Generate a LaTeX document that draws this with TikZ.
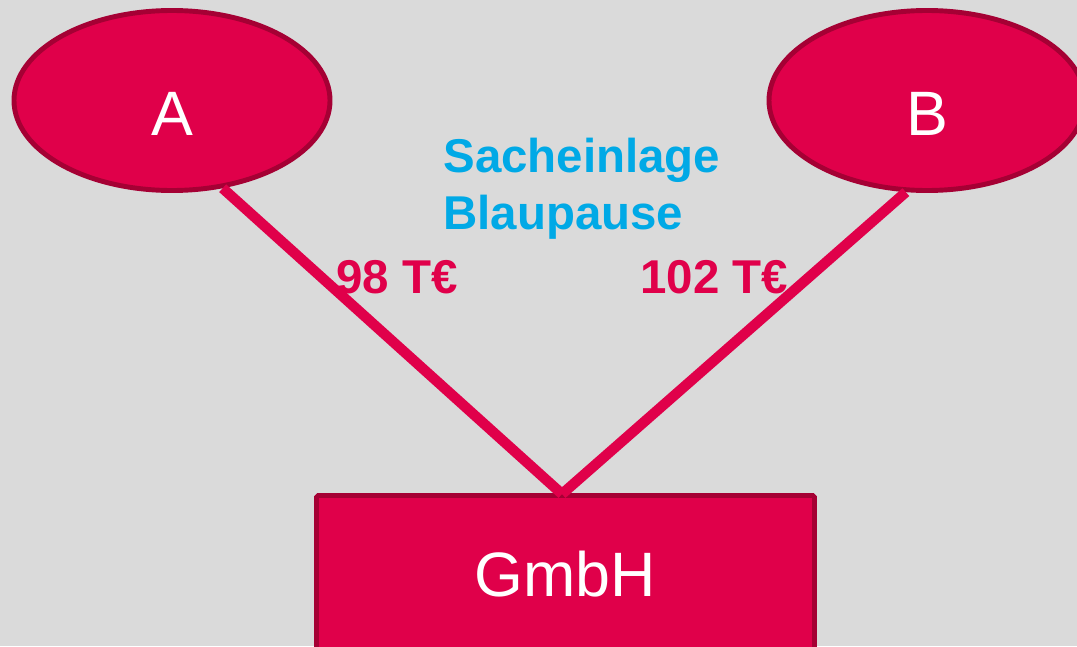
\documentclass[tikz,border=0pt]{standalone}
\usepackage{fontspec}
\setmainfont{Liberation Sans}
\usetikzlibrary{shapes.geometric,positioning}
\definecolor{paper}{HTML}{DADADA}
\definecolor{crimson}{HTML}{E0004A}
\definecolor{wine}{HTML}{A50034}
\definecolor{sky}{HTML}{00A9E6}
\tikzset{party/.style={ellipse,draw=wine,fill=crimson,line width=2.8pt,minimum width=6.32cm,minimum height=3.6cm,inner sep=0pt,text=white,font=\fontsize{35.7}{40}\selectfont,text height=1.38cm,text depth=0pt},
 firmbox/.style={rectangle,draw=wine,fill=crimson,line width=2.8pt,rounded corners=1pt,minimum width=9.96cm,minimum height=3.11cm,inner sep=0pt,text=white,font=\fontsize{35.7}{40}\selectfont,text height=0.94cm,text depth=0pt},
 stake/.style={draw=crimson,line width=5.9pt},
 amount/.style={text=crimson,font=\bfseries\fontsize{27}{32}\selectfont,inner sep=0pt,anchor=base west},
 remark/.style={text=sky,font=\bfseries\fontsize{27}{31.9}\selectfont,inner sep=0pt,align=left,anchor=base west}}
\begin{document}
\begin{tikzpicture}[x=0.2mm,y=-0.2mm]
\useasboundingbox (0,0) rectangle (1077,646);
\fill[paper] (0,0) rectangle (1077,646);
% Gesellschafter und GmbH
\node[party] (A) at (172,100.5) {A};
\node[party] (B) at (927,100.5) {B};
\node[firmbox] (G) at (565.5,573.25) {GmbH};
\coordinate (tip) at (562,494);
% Einlagen
\draw[stake] (A.-60)--(tip);
\draw[stake] (B.-103)--(tip);
\node[amount] (vA) at (336,293) {98 T€};
\node[amount] (vB) at (640,293) {102 T€};
\node[remark] (note) at (443,229) {Sacheinlage\\Blaupause};
\end{tikzpicture}
\end{document}
